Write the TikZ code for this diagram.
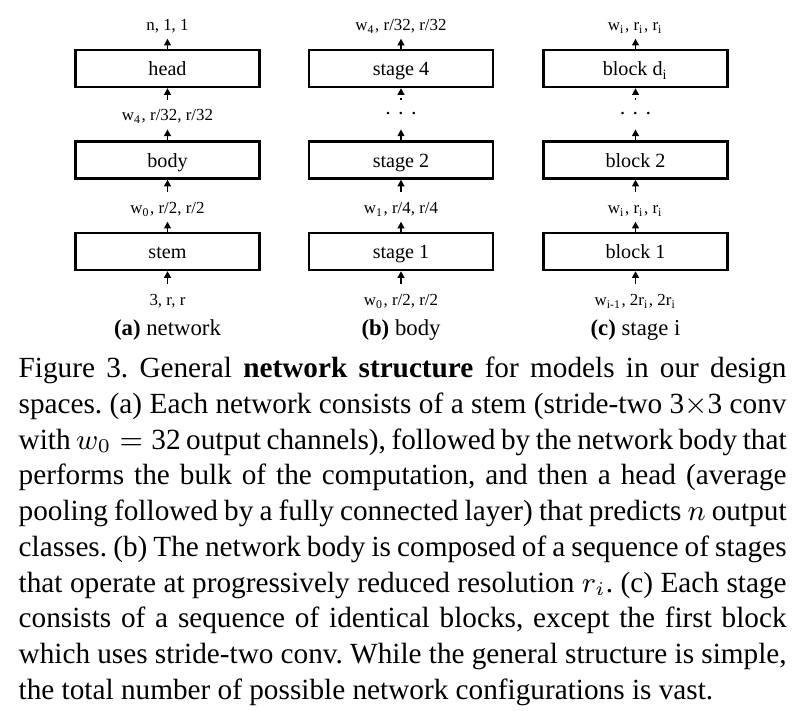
\documentclass[tikz,border=0pt]{standalone}
\usepackage{fontspec}
\setmainfont{Liberation Serif}
\usetikzlibrary{arrows.meta}
\frenchspacing
\begin{document}
\begin{tikzpicture}[x=0.30769pt, y=-0.30769pt,
  boxst/.style={draw, line width=0.7pt, minimum width=56.6pt, minimum height=11.38pt,
    inner sep=0pt, font=\fontsize{6.2}{7}\selectfont, text height=4.8pt, text depth=0.2pt},
  labst/.style={inner sep=0pt, anchor=base, font=\fontsize{5.2}{6}\selectfont,
    text height=6.15pt, text depth=2.46pt},
  dotsst/.style={labst, font=\fontsize{6.5}{7}\selectfont},
  subst/.style={inner sep=0pt, anchor=base, font=\fontsize{7}{8}\selectfont},
  arr/.style={-{Triangle[length=2.1pt,width=2.1pt]}, line width=0.55pt},
  darr/.style={arr, dotted},
  capst/.style={inner sep=0pt, anchor=north west, text width=236.3pt, align=justify,
    font=\fontsize{9}{11}\selectfont}]
\useasboundingbox (0,0) rectangle (804,710);
% column (a)
\node[labst] (a0) at (167.5,305) {3, r, r};
\node[boxst] (a1) at (167.5,251.5) {stem};
\node[labst] (a2) at (167.5,213) {w\textsubscript{0}, r/2, r/2};
\node[boxst] (a3) at (167.5,160) {body};
\node[labst] (a4) at (167.5,120.7) {w\textsubscript{4}, r/32, r/32};
\node[boxst] (a5) at (167.5,68.5) {head};
\node[labst] (a6) at (167.5,30) {n, 1, 1};
\foreach \p/\q in {a0/a1,a1/a2,a2/a3,a3/a4,a4/a5,a5/a6} \draw[arr] (\p) -- (\q);
\node[subst] (sa) at (167.5,335.7) {\textbf{(a)} network};
% column (b)
\node[labst] (b0) at (401,305) {w\textsubscript{0}, r/2, r/2};
\node[boxst] (b1) at (401,251.5) {stage 1};
\node[labst] (b2) at (401,213) {w\textsubscript{1}, r/4, r/4};
\node[boxst] (b3) at (401,160) {stage 2};
\node[dotsst] (b4) at (401,120.7) {·\hspace{1.8pt}·\hspace{1.8pt}·};
\node[boxst] (b5) at (401,68.5) {stage 4};
\node[labst] (b6) at (401,30) {w\textsubscript{4}, r/32, r/32};
\foreach \p/\q in {b0/b1,b1/b2,b2/b3,b3/b4,b5/b6} \draw[arr] (\p) -- (\q);
\draw[darr] (b4) -- (b5);
\node[subst] (sb) at (401,335.7) {\textbf{(b)} body};
% column (c)
\node[labst] (c0) at (635.5,305) {w\textsubscript{i-1}, 2r\textsubscript{i}, 2r\textsubscript{i}};
\node[boxst] (c1) at (635.5,251.5) {block 1};
\node[labst] (c2) at (635.5,213) {w\textsubscript{i}, r\textsubscript{i}, r\textsubscript{i}};
\node[boxst] (c3) at (635.5,160) {block 2};
\node[dotsst] (c4) at (635.5,120.7) {·\hspace{1.8pt}·\hspace{1.8pt}·};
\node[boxst] (c5) at (635.5,68.5) {block d\textsubscript{i}};
\node[labst] (c6) at (635.5,30) {w\textsubscript{i}, r\textsubscript{i}, r\textsubscript{i}};
\foreach \p/\q in {c0/c1,c1/c2,c2/c3,c3/c4,c5/c6} \draw[arr] (\p) -- (\q);
\draw[darr] (c4) -- (c5);
\node[subst] (sc) at (635.5,335.7) {\textbf{(c)} stage i};
% caption
\node[capst] (captext) at (18,352) {\noindent\strut Figure 3. General \textbf{network structure} for models in our design\linebreak
spaces. (a) Each network consists of a stem (stride-two 3$\times$3 conv\linebreak
with $w_0 = \mbox{32}$ output channels), followed by the network body that\linebreak
performs the bulk of the computation, and then a head (average\linebreak
pooling followed by a fully connected layer) that predicts $n$ output\linebreak
classes. (b) The network body is composed of a sequence of stages\linebreak
that operate at progressively reduced resolution $r_i$. (c) Each stage\linebreak
consists of a sequence of identical blocks, except the first block\linebreak
which uses stride-two conv. While the general structure is simple,\linebreak
the total number of possible network configurations is vast.};
\end{tikzpicture}
\end{document}
